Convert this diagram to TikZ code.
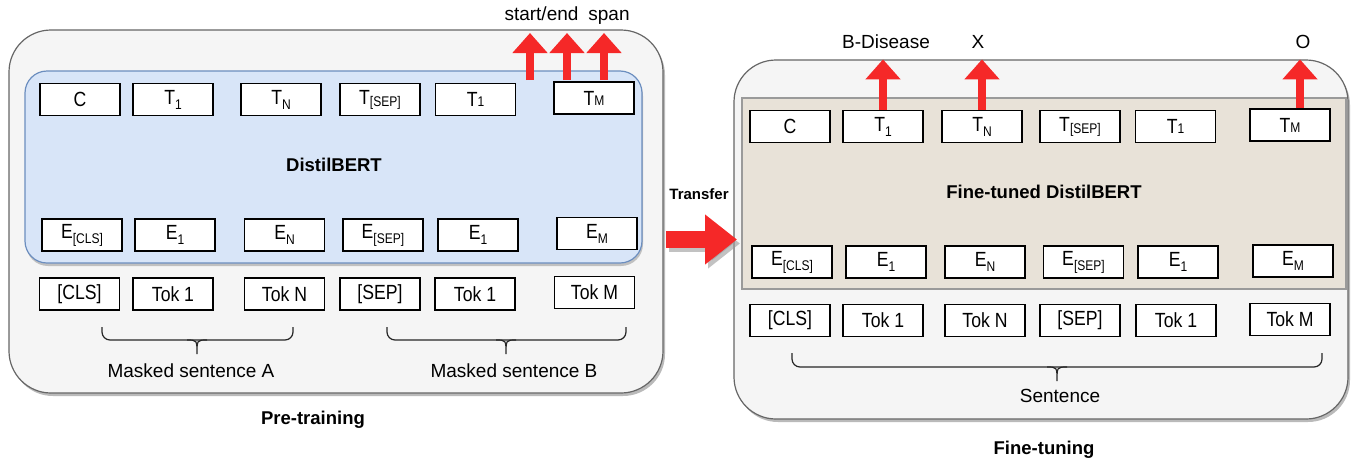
\documentclass[tikz,border=0pt]{standalone}
\usepackage{fontspec}
\setmainfont{Liberation Sans}
\newfontfamily\boxfont{Liberation Sans}[FakeStretch=0.86]
\usetikzlibrary{arrows.meta,shadows}
\definecolor{panelfill}{HTML}{F5F5F5}
\definecolor{panelline}{HTML}{666666}
\definecolor{bertfill}{HTML}{D8E5F8}
\definecolor{bertline}{HTML}{6C8EBF}
\definecolor{tunefill}{HTML}{E8E2D8}
\definecolor{tuneline}{HTML}{9A9A9A}
\definecolor{arrred}{HTML}{F52828}
\newcommand{\lowsub}[1]{\raisebox{-5pt}{\fontsize{14}{14}\selectfont #1}}
\newcommand{\smallsub}[1]{{\fontsize{14}{14}\selectfont #1}}
\newcommand{\midsub}[1]{\raisebox{-2pt}{\fontsize{14}{14}\selectfont #1}}

\begin{document}
\begin{tikzpicture}[x=1pt,y=-1pt,
panel/.style={draw=panelline,fill=panelfill,line width=1.2pt,rounded corners=42pt,drop shadow={shadow xshift=2pt,shadow yshift=-3pt,fill=black!45,opacity=0.6}},
bert/.style={draw=bertline,fill=bertfill,line width=1.2pt,rounded corners=22pt,drop shadow={shadow xshift=1pt,shadow yshift=-3pt,fill=black!45,opacity=0.5}},
tuned/.style={draw=tuneline,fill=tunefill,line width=1.2pt},
tok/.style={draw=black,fill=white,line width=1.3pt,minimum width=80pt,minimum height=32pt,inner sep=0pt,font=\boxfont\fontsize{20.5}{22}\selectfont},
lbl/.style={font=\fontsize{19}{22}\selectfont,text height=13pt,text depth=4pt},
ttl/.style={font=\bfseries\fontsize{18.5}{22}\selectfont,text height=13pt,text depth=4pt},
brace/.style={draw=black!85,line width=1.2pt},
outarr/.style={line width=8pt,arrred,-{Triangle[width=34pt,length=20pt]}},
bigarr/.style={line width=17pt,arrred,-{Triangle[width=48pt,length=32pt]}}]
\useasboundingbox (0,0) rectangle (1356,461);
\node[panel,minimum width=654pt,minimum height=363pt] (lout) at (336,211.5) {};
\node[bert,minimum width=617pt,minimum height=192pt] (bert) at (333.5,167) {};
\node[panel,minimum width=614pt,minimum height=359pt] (rout) at (1041,239.5) {};
\node[tuned,minimum width=604pt,minimum height=191pt] (tune) at (1044,193.5) {};
\node[ttl] (bertlbl) at (334,167) {DistilBERT};
\node[ttl] (tunelbl) at (1044,194) {Fine-tuned DistilBERT};
\node[ttl] (pre) at (313,420) {Pre-training};
\node[ttl] (fine) at (1044,450) {Fine-tuning};
\node[ttl,font=\bfseries\fontsize{15}{18}\selectfont] (trlbl) at (699,195) {Transfer};
\node[tok] (lC) at (80,99.5) {C};
\node[tok] (lT1) at (173,99.5) {T\lowsub{1}};
\node[tok] (lTN) at (281,99.5) {T\lowsub{N}};
\node[tok] (lTS) at (380,99.5) {T\midsub{[SEP]}};
\node[tok] (lTa) at (475.5,99.5) {T\smallsub{1}};
\node[tok] (lTM) at (594,98) {T\smallsub{M}};
\node[tok] (lEC) at (82,235) {E\lowsub{[CLS]}};
\node[tok] (lE1) at (175,235) {E\lowsub{1}};
\node[tok] (lEN) at (284.5,235) {E\lowsub{N}};
\node[tok] (lES) at (383,235) {E\lowsub{[SEP]}};
\node[tok] (lEa) at (478,235) {E\lowsub{1}};
\node[tok] (lEM) at (597,233.5) {E\lowsub{M}};
\node[tok] (lCLS) at (79.5,294) {[CLS]};
\node[tok] (lTok1) at (173,294) {Tok 1};
\node[tok] (lTokN) at (284.5,294) {Tok N};
\node[tok] (lSEP) at (380,294) {[SEP]};
\node[tok] (lToka) at (475,294) {Tok 1};
\node[tok] (lTokM) at (594.5,292.5) {Tok M};
\node[tok] (rC) at (790,126.5) {C};
\node[tok] (rT1) at (883,126.5) {T\lowsub{1}};
\node[tok] (rTN) at (982,126.5) {T\lowsub{N}};
\node[tok] (rTS) at (1080,126.5) {T\midsub{[SEP]}};
\node[tok] (rTa) at (1175.5,126.5) {T\smallsub{1}};
\node[tok] (rTM) at (1290,125) {T\smallsub{M}};
\node[tok] (rEC) at (792,262) {E\lowsub{[CLS]}};
\node[tok] (rE1) at (886,262) {E\lowsub{1}};
\node[tok] (rEN) at (985,262) {E\lowsub{N}};
\node[tok] (rES) at (1083.5,262) {E\lowsub{[SEP]}};
\node[tok] (rEa) at (1178,262) {E\lowsub{1}};
\node[tok] (rEM) at (1293,261) {E\lowsub{M}};
\node[tok] (rCLS) at (790,320.5) {[CLS]};
\node[tok] (rTok1) at (883,320.5) {Tok 1};
\node[tok] (rTokN) at (985,320.5) {Tok N};
\node[tok] (rSEP) at (1080,320.5) {[SEP]};
\node[tok] (rToka) at (1176,320.5) {Tok 1};
\node[tok] (rTokM) at (1290,319.5) {Tok M};
\node[lbl] (span1) at (541.5,16) {start/end};
\node[lbl] (span2) at (609,16) {span};
\node[lbl] (bdis) at (886,44) {B-Disease};
\node[lbl] (xlbl) at (978,44) {X};
\node[lbl] (olbl) at (1303,44) {O};
\node[lbl] (sentA) at (191,373) {Masked sentence A};
\node[lbl] (sentB) at (514,373) {Masked sentence B};
\node[lbl] (sent) at (1060,398) {Sentence};
\coordinate (s1) at (530,80);
\coordinate (s2) at (567,80);
\coordinate (s3) at (604,80);
\draw[outarr] (s1) -- (530,33);
\draw[outarr] (s2) -- (567,33);
\draw[outarr] (s3) -- (604,33);
\draw[outarr] (rT1.north) -- (rT1.north |- rout.north);
\draw[outarr] (rTN.north) -- (rTN.north |- rout.north);
\draw[outarr] ([xshift=10pt]rTM.north) -- ([xshift=10pt]rTM.north |- rout.north);
\coordinate (tra) at (666,239.5);
\coordinate (trb) at (737,239.5);
\draw[bigarr,black!40,opacity=0.6] ([shift={(3,4)}]tra) -- ([shift={(3,4)}]trb);
\draw[bigarr] (tra) -- (trb);
\draw[brace,rounded corners=8pt] (102,327) |- (197,340) -| (293,327);
\draw[brace] (187,340) .. controls (197,340) .. (197,354) .. controls (197,340) .. (207,340);
\draw[brace,rounded corners=8pt] (387,327) |- (506,340) -| (626,327);
\draw[brace] (496,340) .. controls (506,340) .. (506,354) .. controls (506,340) .. (516,340);
\draw[brace,rounded corners=8pt] (792,353) |- (1057,367) -| (1322,353);
\draw[brace] (1047,367) .. controls (1057,367) .. (1057,381) .. controls (1057,367) .. (1067,367);
\end{tikzpicture}
\end{document}
